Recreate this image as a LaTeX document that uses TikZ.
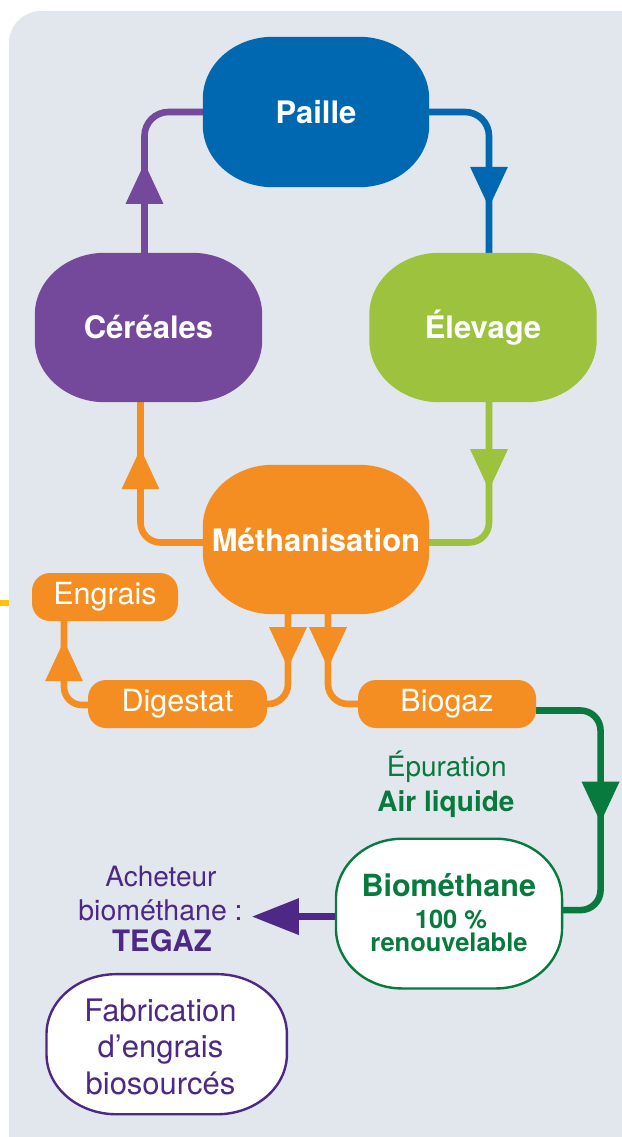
\documentclass[tikz,border=0pt]{standalone}
\usepackage{fontspec}
\setmainfont{TeX Gyre Heros}
\usetikzlibrary{calc,decorations.markings,arrows.meta}
\definecolor{panel}{HTML}{E1E7EC}
\definecolor{cblue}{HTML}{0067B1}
\definecolor{cpurple}{HTML}{74489A}
\definecolor{clime}{HTML}{9DC23D}
\definecolor{corange}{HTML}{F58E22}
\definecolor{dkgreen}{HTML}{087A3D}
\definecolor{dkpurple}{HTML}{4D2886}
\definecolor{ymark}{HTML}{FFC20E}
\pgfdeclarelayer{bgl}\pgfdeclarelayer{midl}\pgfsetlayers{bgl,midl,main}
\newcommand\fz[1]{\fontsize{#1}{#1}\selectfont}
\newcommand\softshape[4]{%
  \path[#4] ($(#1.north west)+(#2,0pt)$) -- ($(#1.north east)+(-#2,0pt)$)
    arc[start angle=90,end angle=0,x radius=#2,y radius=#3]
    -- ($(#1.south east)+(0pt,#3)$)
    arc[start angle=0,end angle=-90,x radius=#2,y radius=#3]
    -- ($(#1.south west)+(#2,0pt)$)
    arc[start angle=270,end angle=180,x radius=#2,y radius=#3]
    -- ($(#1.north west)+(0pt,-#3)$)
    arc[start angle=180,end angle=90,x radius=#2,y radius=#3] -- cycle;}
\tikzset{
  bigbox/.style={inner sep=0pt, text=white, font=\fz{31}\bfseries,
    minimum width=226pt, minimum height=150pt},
  smallbox/.style={fill=corange, rounded corners=18pt, inner sep=0pt, text=white,
    font=\fz{30.5}, minimum height=48pt},
  conn/.style={line width=6.6pt, rounded corners=20pt},
  arrowat/.style={postaction={decorate}, decoration={markings,
    mark=at position #1 with {\arrow{Triangle[width=36pt,length=41pt]}}}},
  lbl/.style={inner sep=0pt, anchor=base},
}
\begin{document}
\begin{tikzpicture}[x=1pt,y=-1pt]
\useasboundingbox (0,0) rectangle (621,1137);
% nodes
\node[bigbox] (pai) at (316,112) {Paille};
\node[bigbox, minimum width=227pt, minimum height=149pt] (cer) at (148.5,327.5) {Céréales};
\node[bigbox, minimum width=227pt, minimum height=149pt] (ele) at (483,327.5) {Élevage};
\node[bigbox, minimum height=149pt] (met) at (316,539.5) {Méthanisation};
\node[smallbox, minimum width=146pt] (eng) at (105,597) {Engrais};
\node[smallbox, minimum width=179pt] (dig) at (177.5,704) {Digestat};
\node[smallbox, minimum width=178pt] (bio) at (447,704) {Biogaz};
\node[inner sep=0pt, minimum width=225.7pt, minimum height=149.3pt] (bm) at (449,913.6) {};
\node[inner sep=0pt, minimum width=240pt, minimum height=139.7pt] (fab) at (166.7,1044.2) {};
% texts
\node[lbl, text=dkgreen, font=\fz{28}] (epu1) at (446.7,776) {Épuration};
\node[lbl, text=dkgreen, font=\fz{28}\bfseries] (epu2) at (446,811.7) {Air liquide};
\node[lbl, text=dkgreen, font=\fz{30.5}\bfseries] (bmt1) at (448.8,896.7) {Biométhane};
\node[lbl, text=dkgreen, font=\fz{25.5}\bfseries] (bmt2) at (451,928.3) {100 \%};
\node[lbl, text=dkgreen, font=\fz{25.5}\bfseries] (bmt3) at (449,951.7) {renouvelable};
\node[lbl, text=dkpurple, font=\fz{28}] (ach1) at (161,886) {Acheteur};
\node[lbl, inner xsep=9pt, text=dkpurple, font=\fz{28.5}] (ach2) at (160.5,920.7) {biométhane :};
\node[lbl, text=dkpurple, font=\fz{29.5}\bfseries] (ach3) at (162,951.7) {TEGAZ};
\node[lbl, text=dkpurple, font=\fz{31}] (fabt1) at (160.5,1021) {Fabrication};
\node[lbl, text=dkpurple, font=\fz{31}] (fabt2) at (160.5,1057.3) {d’engrais};
\node[lbl, text=dkpurple, font=\fz{31}] (fabt3) at (160.5,1094.3) {biosourcés};
% box shapes
\begin{pgfonlayer}{midl}
\softshape{pai}{70pt}{62pt}{fill=cblue}
\softshape{cer}{70pt}{62pt}{fill=cpurple}
\softshape{ele}{70pt}{62pt}{fill=clime}
\softshape{met}{70pt}{62pt}{fill=corange}
\softshape{bm}{66pt}{60pt}{fill=white, draw=dkgreen, line width=2.4pt}
\softshape{fab}{70pt}{60pt}{fill=white, draw=dkpurple, line width=2.4pt}
\end{pgfonlayer}
% background and connectors
\begin{pgfonlayer}{bgl}
\fill[panel, rounded corners=32pt] (9,1200) -- (9,11) -- (700,11) -- (700,1200) -- cycle;
\fill[ymark] (0,600) rectangle (9,606);
\draw[conn, cpurple, rounded corners=24pt, arrowat=90pt] ($(cer.north)+(-4,0)$) |- (pai.west);
\draw[conn, cblue, rounded corners=24pt, arrowat=-45pt] (pai.east) -| ($(ele.north)+(6,0)$);
\draw[conn, clime, arrowat=88pt] ($(ele.south)+(6,0)$) |- ($(met.east)+(0,3)$);
\draw[conn, corange, arrowat=-46pt] ($(met.west)+(0,3)$) -| ($(cer.south)+(-8,0)$);
\draw[conn, corange, arrowat=54pt] ($(met.south)+(-28,0)$) |- (dig.east);
\draw[conn, corange, arrowat=54pt] ($(met.south)+(12,0)$) |- (bio.west);
\draw[conn, corange, rounded corners=18pt, arrowat=-19pt] ($(dig.west)+(0,1)$) -| ($(eng.south)+(-41,0)$);
\draw[conn, dkgreen, arrowat=168pt] ($(bio.east)+(0,6.5)$) -| ($(bm.east)+(38.5,-3.5)$) -- ($(bm.east)+(0,-3.5)$);
\draw[conn, dkpurple, rounded corners=0pt, -{Triangle[width=35pt,length=47pt]}] ($(bm.west)+(0,3)$) -- ($(ach2.east |- bm.west)+(0,3)$);
\end{pgfonlayer}
\end{tikzpicture}
\end{document}
